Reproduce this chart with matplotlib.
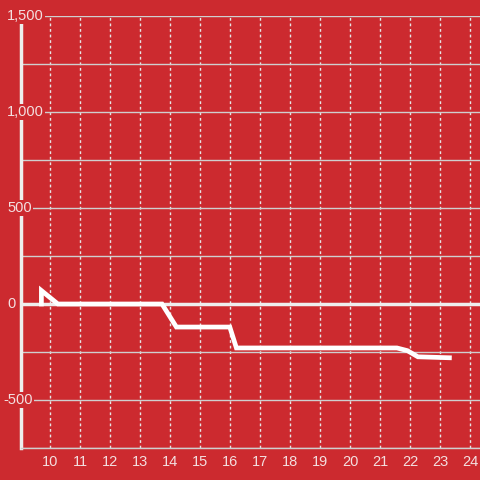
import numpy as np
import matplotlib
matplotlib.use('Agg')
import matplotlib.pyplot as plt
import matplotlib.transforms as mtransforms

### Data ###
hours = [9.7, 9.7, 10.25, 13.72, 14.2, 15.98, 16.2, 21.55, 21.9, 22.25, 23.3]
values = [0, 70, 0, 0, -120, -120, -229, -229, -243, -275, -280]
y_labels = [1500, 1000, 500, 0, -500]
x_ticks = list(range(10, 25))

bg = '#cc2a2f'
txt = '#f3dfe0'

plt.rcParams['font.family'] = ['Liberation Sans', 'DejaVu Sans']

fig = plt.figure(figsize=(4.8, 4.8), dpi=100, facecolor=bg)
ax = fig.add_axes([21/480, 32/480, 459/480, 432/480], facecolor=bg)

ax.set_xlim(9.02, 24.32)
ax.set_ylim(-750, 1500)

# grid
ax.set_yticks(np.arange(-750, 1501, 250))
ax.set_yticklabels([])
ax.tick_params(axis='y', length=0)
ax.set_xticks(x_ticks)
ax.set_xticklabels([str(t) for t in x_ticks], color=txt, fontsize=10.5)
ax.tick_params(axis='x', length=0, pad=5)
ax.grid(axis='y', color='#cfcfcf', lw=1)
ax.grid(axis='x', color='#e6e6e6', lw=1, linestyle=(0, (2, 2)))
ax.set_axisbelow(True)

for s in ['top', 'right']:
    ax.spines[s].set_visible(False)
ax.spines['bottom'].set_color('#cfcfcf')
ax.spines['bottom'].set_linewidth(1)
ax.spines['left'].set_color('#eeeeee')
ax.spines['left'].set_linewidth(2.5)
ax.spines['left'].set_bounds(-750, 1458)

# zero line
ax.axhline(0, color='#eeeeee', lw=2.5, zorder=2)

# data
ax.plot(hours, values, color='white', lw=3.4, zorder=4, solid_joinstyle='miter')

# y labels sitting over the axis
lab_tr = mtransforms.blended_transform_factory(mtransforms.IdentityTransform(), ax.transData)
for v in y_labels:
    lab = '{:,}'.format(v)
    x0 = 3 if v < 0 else 7
    ax.text(x0, v, lab, transform=lab_tr,
            ha='left', va='center', color=txt, fontsize=10.5, clip_on=False, zorder=5,
            bbox=dict(facecolor=bg, edgecolor='none', pad=1))

fig.savefig('out.png', dpi=100, facecolor=bg)
